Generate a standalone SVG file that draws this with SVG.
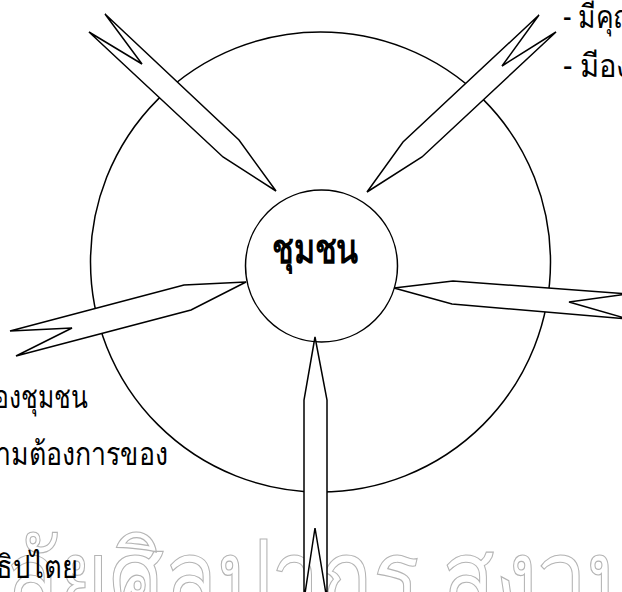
<svg xmlns="http://www.w3.org/2000/svg" width="622" height="592" viewBox="0 0 622 592">
<style>
.ln{fill:none;stroke:#000;stroke-width:1.5}
.ar{fill:#fff;stroke:#000;stroke-width:1.5;stroke-linejoin:miter}
.tx{font-family:"Noto Sans",sans-serif;font-size:32px;fill:#000}
.hd{font-family:"Noto Sans",sans-serif;font-size:40px;font-weight:bold;fill:#000}
.wm{font-family:"Noto Sans",sans-serif;font-size:100px;fill:none;stroke:#b4b4b4;stroke-width:1.2}
</style>
<rect width="622" height="592" fill="#fff"/>
<g id="outer-circle"><circle class="ln" cx="320.5" cy="262" r="230"/></g>
<g id="community"><circle class="ln" cx="321.5" cy="266" r="76" fill="#fff"/><text class="hd" x="272" y="263" textLength="86" lengthAdjust="spacingAndGlyphs">ชุมชน</text></g>
<g id="watermark"><text class="wm" x="5" y="612" textLength="640" lengthAdjust="spacingAndGlyphs">ลัยศิลปากร สงวน</text></g>
<g id="connectors">
<polygon class="ar" points="276,191 239,140 105,14 142,64 89,32 223,157"/>
<polygon class="ar" points="367,192 403,142 539,15 502,66 556,32 422,157"/>
<polygon class="ar" points="246,282 184,285 10,331 72,328 16,356 191,310"/>
<polygon class="ar" points="394,288 453,281 628,294 569,302 628,319 452,304"/>
<polygon class="ar" points="315,337 327,400 327,600 315,528 304,600 304,400"/>
</g>
<g id="text-right">
<text class="tx" x="563" y="28" textLength="75" lengthAdjust="spacingAndGlyphs">- มีคุณ</text>
<text class="tx" x="563" y="77" textLength="68" lengthAdjust="spacingAndGlyphs">- มีอง</text>
</g>
<g id="text-left">
<text class="tx" x="-6" y="408" textLength="94" lengthAdjust="spacingAndGlyphs">องชุมชน</text>
<text class="tx" x="-4" y="465" textLength="172" lengthAdjust="spacingAndGlyphs">ามต้องการของ</text>
<text class="tx" x="-4" y="578" textLength="82" lengthAdjust="spacingAndGlyphs">ธิปไตย</text>
</g>
</svg>
